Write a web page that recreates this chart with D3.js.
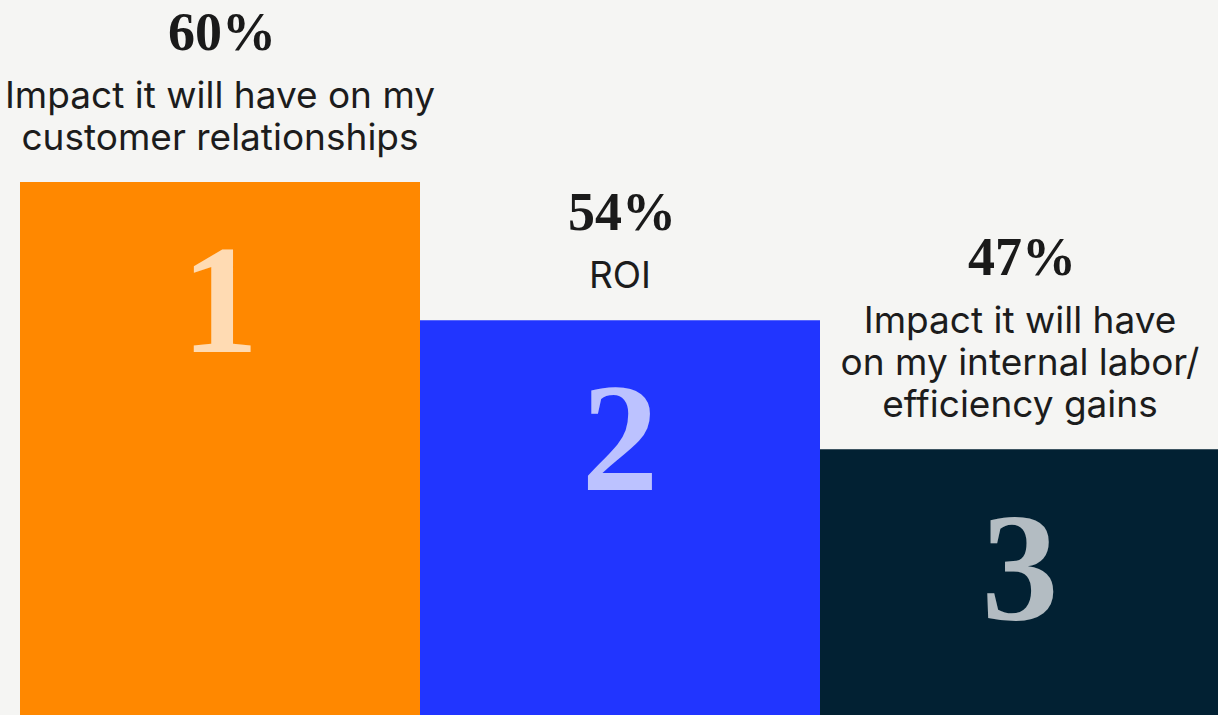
<!DOCTYPE html>
<html>
<head>
<meta charset="utf-8">
<script src="https://cdn.jsdelivr.net/npm/d3@7"></script>
<style>
  html, body { margin: 0; padding: 0; background: #f5f5f3; }
  svg { display: block; }
</style>
</head>
<body>
<svg id="chart" width="1218" height="715"></svg>
<script>
// Ranked purchase drivers
const ranks = ["1", "2", "3"];
const values = [60, 54, 47];
const labelLines = [
  ["Impact it will have on my", "customer relationships"],
  ["ROI"],
  ["Impact it will have", "on my internal labor/", "efficiency gains"]
];
const barColors = ["#ff8800", "#2135ff", "#022133"];

const W = 1218, H = 715;
const svg = d3.select("#chart");

svg.append("rect").attr("width", W).attr("height", H).attr("fill", "#f5f5f3");

const x = d3.scaleBand().domain(ranks).range([20, 1220]).padding(0);
// bar height grows steeply with share so the ranking reads as steps
const h = d3.scalePow().exponent(2.85).domain([0, 60]).range([0, 533]);
const yTop = v => H - h(v);

const g = svg.selectAll("g.bar").data(ranks).join("g").attr("class", "bar");

g.append("rect")
  .attr("x", d => x(d))
  .attr("y", (d, i) => yTop(values[i]))
  .attr("width", x.bandwidth())
  .attr("height", (d, i) => h(values[i]))
  .attr("fill", (d, i) => barColors[i]);

// big rank numeral inside each bar
g.append("text")
  .attr("x", d => x(d) + x.bandwidth() / 2)
  .attr("y", (d, i) => yTop(values[i]) + 170)
  .attr("text-anchor", "middle")
  .attr("font-family", "'Liberation Serif', 'DejaVu Serif', serif")
  .attr("font-weight", "bold")
  .attr("font-size", 154)
  .attr("fill", "#ffffff")
  .attr("fill-opacity", 0.7)
  .text(d => d);

const lineH = 42;
// category label lines, stacked above the bar, with the share on top
g.each(function (d, i) {
  const cx = x(d) + x.bandwidth() / 2;
  const lines = labelLines[i];
  const lastBase = yTop(values[i]) - 32;
  const firstBase = lastBase - (lines.length - 1) * lineH;
  const sel = d3.select(this);
  lines.forEach((t, j) => {
    sel.append("text")
      .attr("x", cx)
      .attr("y", firstBase + j * lineH)
      .attr("text-anchor", "middle")
      .attr("font-family", "Inter, 'Noto Sans', sans-serif")
      .attr("font-size", 37)
      .attr("fill", "#1c1c1c")
      .text(t);
  });
  sel.append("text")
    .attr("x", cx + 2)
    .attr("y", firstBase - 58)
    .attr("text-anchor", "middle")
    .attr("font-family", "'Liberation Serif', 'DejaVu Serif', serif")
    .attr("font-weight", "bold")
    .attr("font-size", 54)
    .attr("fill", "#1a1a1a")
    .text(values[i] + "%");
});
</script>
</body>
</html>
